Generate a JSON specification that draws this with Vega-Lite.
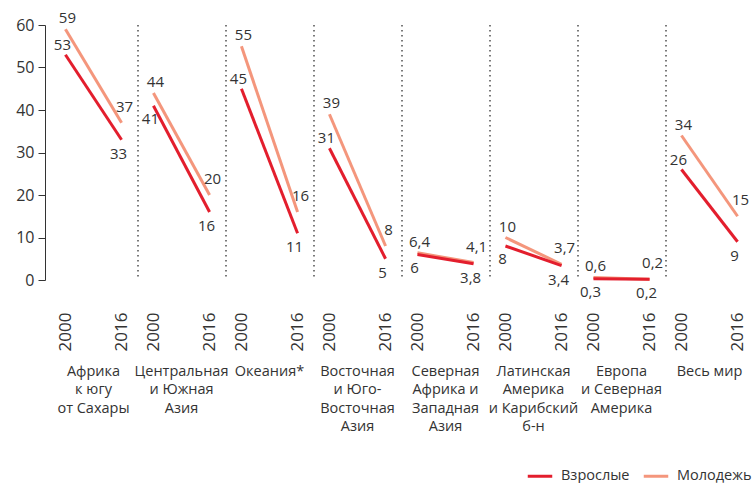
{
  "$schema": "https://vega.github.io/schema/vega-lite/v6.json",
  "padding": {"left": 15, "top": 11, "right": 0, "bottom": 0},
  "config": {
    "locale": {"number": {"decimal": ",", "thousands": " ", "grouping": [3], "currency": ["", ""]}},
    "view": {"stroke": null},
    "font": "Open Sans",
    "text": {"font": "Open Sans"}
  },
  "data": {
    "values": [
      {"region": "Африка\nк югу\nот Сахары", "year": 2000, "group": "Взрослые", "value": 53},
      {"region": "Африка\nк югу\nот Сахары", "year": 2016, "group": "Взрослые", "value": 33},
      {"region": "Африка\nк югу\nот Сахары", "year": 2000, "group": "Молодежь", "value": 59},
      {"region": "Африка\nк югу\nот Сахары", "year": 2016, "group": "Молодежь", "value": 37},
      {"region": "Центральная\nи Южная\nАзия", "year": 2000, "group": "Взрослые", "value": 41},
      {"region": "Центральная\nи Южная\nАзия", "year": 2016, "group": "Взрослые", "value": 16},
      {"region": "Центральная\nи Южная\nАзия", "year": 2000, "group": "Молодежь", "value": 44},
      {"region": "Центральная\nи Южная\nАзия", "year": 2016, "group": "Молодежь", "value": 20},
      {"region": "Океания*", "year": 2000, "group": "Взрослые", "value": 45},
      {"region": "Океания*", "year": 2016, "group": "Взрослые", "value": 11},
      {"region": "Океания*", "year": 2000, "group": "Молодежь", "value": 55},
      {"region": "Океания*", "year": 2016, "group": "Молодежь", "value": 16},
      {"region": "Восточная\nи Юго-\nВосточная\nАзия", "year": 2000, "group": "Взрослые", "value": 31},
      {"region": "Восточная\nи Юго-\nВосточная\nАзия", "year": 2016, "group": "Взрослые", "value": 5},
      {"region": "Восточная\nи Юго-\nВосточная\nАзия", "year": 2000, "group": "Молодежь", "value": 39},
      {"region": "Восточная\nи Юго-\nВосточная\nАзия", "year": 2016, "group": "Молодежь", "value": 8},
      {"region": "Северная\nАфрика и\nЗападная\nАзия", "year": 2000, "group": "Взрослые", "value": 6},
      {"region": "Северная\nАфрика и\nЗападная\nАзия", "year": 2016, "group": "Взрослые", "value": 3.8},
      {"region": "Северная\nАфрика и\nЗападная\nАзия", "year": 2000, "group": "Молодежь", "value": 6.4},
      {"region": "Северная\nАфрика и\nЗападная\nАзия", "year": 2016, "group": "Молодежь", "value": 4.1},
      {"region": "Латинская\nАмерика\nи Карибский\nб-н", "year": 2000, "group": "Взрослые", "value": 8},
      {"region": "Латинская\nАмерика\nи Карибский\nб-н", "year": 2016, "group": "Взрослые", "value": 3.4},
      {"region": "Латинская\nАмерика\nи Карибский\nб-н", "year": 2000, "group": "Молодежь", "value": 10},
      {"region": "Латинская\nАмерика\nи Карибский\nб-н", "year": 2016, "group": "Молодежь", "value": 3.7},
      {"region": "Европа\nи Северная\nАмерика", "year": 2000, "group": "Взрослые", "value": 0.3},
      {"region": "Европа\nи Северная\nАмерика", "year": 2016, "group": "Взрослые", "value": 0.2},
      {"region": "Европа\nи Северная\nАмерика", "year": 2000, "group": "Молодежь", "value": 0.6},
      {"region": "Европа\nи Северная\nАмерика", "year": 2016, "group": "Молодежь", "value": 0.2},
      {"region": "Весь мир", "year": 2000, "group": "Взрослые", "value": 26},
      {"region": "Весь мир", "year": 2016, "group": "Взрослые", "value": 9},
      {"region": "Весь мир", "year": 2000, "group": "Молодежь", "value": 34},
      {"region": "Весь мир", "year": 2016, "group": "Молодежь", "value": 15}
    ]
  },
  "spacing": 0,
  "facet": {
    "column": {
      "field": "region",
      "type": "nominal",
      "sort": ["Африка\nк югу\nот Сахары", "Центральная\nи Южная\nАзия", "Океания*", "Восточная\nи Юго-\nВосточная\nАзия", "Северная\nАфрика и\nЗападная\nАзия", "Латинская\nАмерика\nи Карибский\nб-н", "Европа\nи Северная\nАмерика", "Весь мир"],
      "header": {
        "title": null,
        "labelOrient": "bottom",
        "labelExpr": "split(datum.label, '\\n')",
        "labelFont": "Open Sans",
        "labelFontSize": 14.5,
        "labelColor": "#333333",
        "labelPadding": 14,
        "labelLineHeight": 18.5,
        "labelBaseline": "top"
      }
    }
  },
  "spec": {
    "width": 87,
    "height": 255,
    "encoding": {
      "x": {
        "field": "year",
        "type": "quantitative",
        "scale": {"domain": [1995.6, 2020.4], "nice": false, "zero": false},
        "axis": {"values": [2000, 2016], "format": "d", "labelAngle": -90, "labelFontSize": 17, "labelColor": "#333333", "ticks": false, "domain": false, "grid": false, "labelPadding": 10, "title": null, "labelFont": "Open Sans"}
      },
      "y": {
        "field": "value",
        "type": "quantitative",
        "scale": {"domain": [0, 60], "nice": false},
        "axis": {"values": [0, 10, 20, 30, 40, 50, 60], "title": null, "grid": false, "offset": 5, "tickSize": 7, "labelPadding": 4, "labelFontSize": 16, "labelColor": "#333333", "domainColor": "#333333", "tickColor": "#333333", "labelFont": "Open Sans"}
      }
    },
    "layer": [
      {
        "transform": [{"filter": "datum.year == 2000 && datum.group == 'Взрослые' && datum.region != 'Африка\\nк югу\\nот Сахары'"}],
        "mark": {"type": "rule", "strokeDash": [1.5, 3.5], "color": "#333333", "strokeWidth": 1.3},
        "encoding": {"x": {"datum": 1995.6}, "y": null}
      },
      {
        "transform": [{"filter": "datum.group == 'Молодежь'"}],
        "mark": {"type": "line", "strokeWidth": 3},
        "encoding": {
          "color": {"field": "group", "type": "nominal",
            "scale": {"domain": ["Взрослые", "Молодежь"], "range": ["#e31e2d", "#f4967c"]},
            "legend": {"title": null, "orient": "none", "legendX": 476, "legendY": 437, "direction": "horizontal", "symbolType": "stroke", "symbolStrokeWidth": 3, "symbolSize": 600, "labelFontSize": 14.5, "labelColor": "#333333", "labelFont": "Open Sans", "labelOffset": 7, "columnPadding": 7}
          }
        }
      },
      {
        "transform": [{"filter": "datum.group == 'Взрослые'"}],
        "mark": {"type": "line", "strokeWidth": 3},
        "encoding": {"color": {"field": "group", "type": "nominal"}}
      },
      {
        "transform": [{"filter": "datum.group == 'Молодежь' && datum.year == 2000"}],
        "mark": {"type": "text", "baseline": "bottom", "dy": -3, "dx": 2, "fontSize": 15, "color": "#333333", "font": "Open Sans"},
        "encoding": {"text": {"field": "value", "type": "quantitative", "format": "~g"}}
      },
      {
        "transform": [{"filter": "datum.group == 'Молодежь' && datum.year == 2016"}],
        "mark": {"type": "text", "baseline": "bottom", "dy": -8, "dx": 3, "fontSize": 15, "color": "#333333", "font": "Open Sans"},
        "encoding": {"text": {"field": "value", "type": "quantitative", "format": "~g"}}
      },
      {
        "transform": [{"filter": "datum.group == 'Взрослые' && datum.year == 2016"}],
        "mark": {"type": "text", "baseline": "top", "dy": 7, "dx": -3, "fontSize": 15, "color": "#333333", "font": "Open Sans"},
        "encoding": {"text": {"field": "value", "type": "quantitative", "format": "~g"}}
      },
      {
        "transform": [{"filter": "datum.group == 'Взрослые' && datum.year == 2000 && indexof(['Африка\\nк югу\\nот Сахары', 'Океания*', 'Восточная\\nи Юго-\\nВосточная\\nАзия', 'Весь мир'], datum.region) >= 0"}],
        "mark": {"type": "text", "baseline": "bottom", "dy": -2, "dx": -3, "fontSize": 15, "color": "#333333", "font": "Open Sans"},
        "encoding": {"text": {"field": "value", "type": "quantitative", "format": "~g"}}
      },
      {
        "transform": [{"filter": "datum.group == 'Взрослые' && datum.year == 2000 && indexof(['Африка\\nк югу\\nот Сахары', 'Океания*', 'Восточная\\nи Юго-\\nВосточная\\nАзия', 'Весь мир'], datum.region) < 0"}],
        "mark": {"type": "text", "baseline": "top", "dy": 6, "dx": -3, "fontSize": 15, "color": "#333333", "font": "Open Sans"},
        "encoding": {"text": {"field": "value", "type": "quantitative", "format": "~g"}}
      }
    ]
  }
}
